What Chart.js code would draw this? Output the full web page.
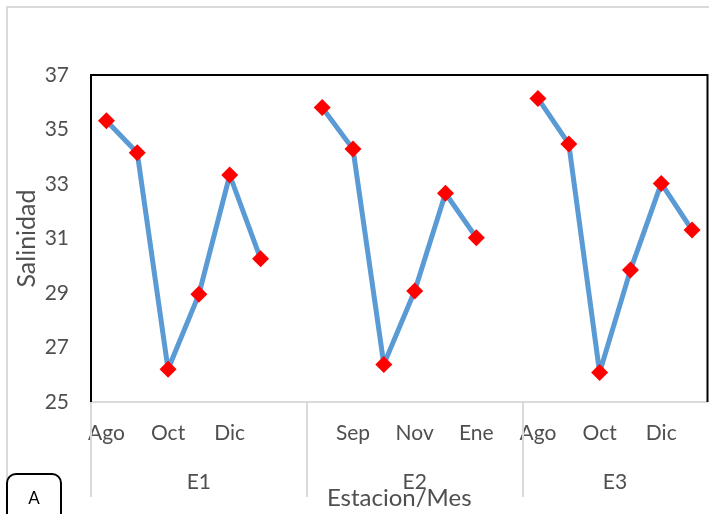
<!DOCTYPE html>
<html>
<head>
<meta charset="utf-8">
<title>Salinidad por estación y mes</title>
<script src="https://cdn.jsdelivr.net/npm/chart.js@4.4.1/dist/chart.umd.min.js"></script>
<style>
  html, body { margin: 0; padding: 0; background: #fff; overflow: hidden; }
  #wrap { position: relative; width: 709px; height: 514px; overflow: hidden; }
  #wrap canvas { position: absolute; left: 0; top: 0; }
</style>
</head>
<body>
<div id="wrap"><canvas id="chart" width="716" height="514"></canvas></div>
<script>
// Salinity per sampling station, August to January
const months = ['Ago', 'Sep', 'Oct', 'Nov', 'Dic', 'Ene'];
const stations = ['E1', 'E2', 'E3'];
const salE1 = [35.32, 34.15, 26.20, 28.95, 33.33, 30.26];
const salE2 = [35.81, 34.28, 26.38, 29.07, 32.66, 31.03];
const salE3 = [36.14, 34.47, 26.08, 29.84, 33.02, 31.31];
const yMin = 25, yMax = 37, yStep = 2;

// Flatten into one category axis; an empty slot closes each station block
const labels = [];
const values = [];
const groups = [];
[salE1, salE2, salE3].forEach((vals, g) => {
  const start = labels.length;
  months.forEach((m, i) => { labels.push(m); values.push(vals[i]); });
  if (g < stations.length - 1) { labels.push(''); values.push(null); }
  groups.push({ name: stations[g], start: start, end: labels.length - 1 });
});

const FONT = 'Lato';
const TEXT = '#4f4f4f';

// Plot frame, outer chart border, station divisions and panel tag
const decorations = {
  id: 'decorations',
  beforeDraw(chart) {
    const ctx = chart.ctx;
    ctx.save();
    ctx.strokeStyle = '#d9d9d9';
    ctx.lineWidth = 2;
    ctx.strokeRect(7, 7, chart.width + 10, chart.height + 10);
    ctx.restore();
  },
  beforeDatasetsDraw(chart) {
    const a = chart.chartArea;
    const ctx = chart.ctx;
    ctx.save();
    ctx.strokeStyle = '#000';
    ctx.lineWidth = 2;
    ctx.beginPath();
    ctx.moveTo(a.left, a.bottom);
    ctx.lineTo(a.left, a.top);
    ctx.lineTo(a.right, a.top);
    ctx.lineTo(a.right, a.bottom);
    ctx.stroke();
    ctx.restore();
  },
  afterDraw(chart) {
    const ctx = chart.ctx;
    const x = chart.scales.x;
    const a = chart.chartArea;
    const slot = x.width / labels.length;
    const edge = i => x.getPixelForValue(i) - slot / 2;
    ctx.save();
    // divisions between stations
    ctx.strokeStyle = '#d9d9d9';
    ctx.lineWidth = 2;
    groups.forEach(g => {
      const px = Math.round(edge(g.start));
      ctx.beginPath();
      ctx.moveTo(px, a.bottom);
      ctx.lineTo(px, 497);
      ctx.stroke();
    });
    // station names
    ctx.fillStyle = TEXT;
    ctx.font = '21px ' + FONT;
    ctx.textAlign = 'center';
    ctx.textBaseline = 'middle';
    groups.forEach(g => {
      const cx = (edge(g.start) + edge(g.end + 1)) / 2;
      ctx.fillText(g.name, cx, 482);
    });
    // panel tag
    ctx.beginPath();
    ctx.roundRect(7, 474, 54, 60, 9);
    ctx.fillStyle = '#fff';
    ctx.fill();
    ctx.strokeStyle = '#000';
    ctx.lineWidth = 2;
    ctx.stroke();
    ctx.fillStyle = '#000';
    ctx.font = '17px ' + FONT;
    ctx.fillText('A', 34, 499);
    ctx.restore();
  }
};

new Chart(document.getElementById('chart'), {
  type: 'line',
  data: {
    labels: labels,
    datasets: [{
      label: 'Salinidad',
      data: values,
      spanGaps: false,
      borderColor: '#5b9bd5',
      borderWidth: 5,
      borderJoinStyle: 'round',
      borderCapStyle: 'round',
      tension: 0,
      pointStyle: 'rectRot',
      pointRadius: 8.5,
      pointBackgroundColor: '#ff0000',
      pointBorderColor: '#ff0000',
      pointBorderWidth: 0
    }]
  },
  options: {
    responsive: false,
    animation: false,
    layout: { padding: { top: 75, right: 4, left: 0, bottom: 0 } },
    plugins: { legend: { display: false }, tooltip: { enabled: false } },
    scales: {
      x: {
        type: 'category',
        offset: true,
        grid: { display: false, drawTicks: false },
        border: { color: '#d9d9d9', width: 2 },
        ticks: {
          autoSkip: false,
          maxRotation: 0,
          padding: 19,
          color: TEXT,
          font: { family: FONT, size: 21 },
          callback: (v, i) => (i % 2 === 0 ? labels[i] : '')
        },
        title: {
          display: true,
          text: 'Estacion/Mes',
          color: TEXT,
          font: { family: FONT, size: 24 },
          padding: { top: 0, bottom: 1 }
        },
        afterFit(scale) { scale.height = 112; }
      },
      y: {
        min: yMin,
        max: yMax,
        grid: { display: false, drawTicks: false },
        border: { color: '#000', width: 2 },
        ticks: {
          stepSize: yStep,
          padding: 22,
          color: TEXT,
          font: { family: FONT, size: 21 }
        },
        title: {
          display: true,
          text: 'Salinidad',
          color: TEXT,
          font: { family: FONT, size: 25 },
          padding: { top: 12, bottom: 0 }
        },
        afterFit(scale) { scale.width = 91; }
      }
    }
  },
  plugins: [decorations]
});
</script>
</body>
</html>
